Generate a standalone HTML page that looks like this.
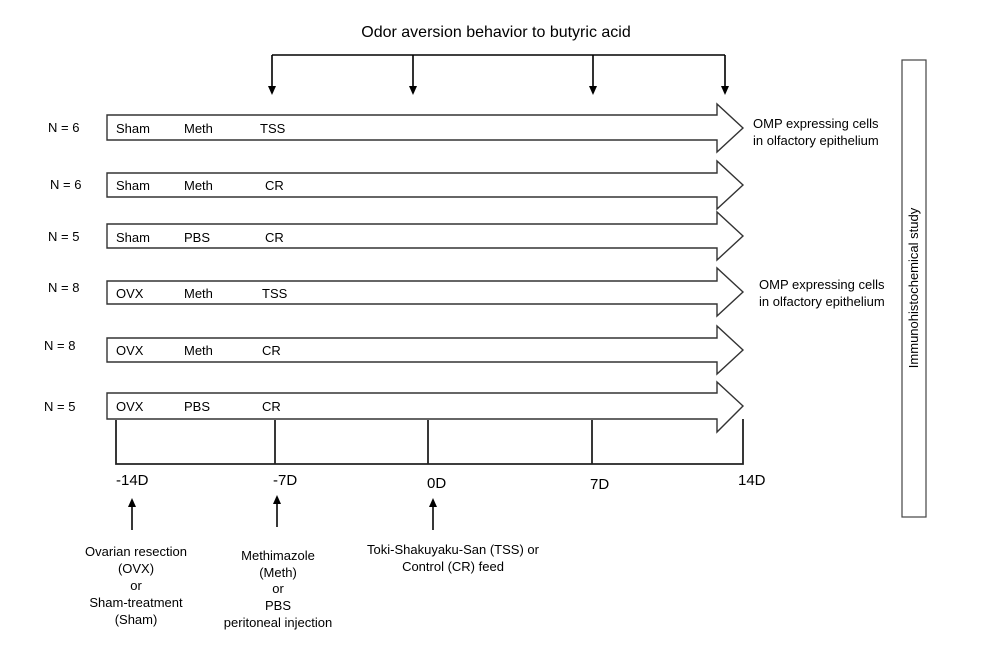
<!DOCTYPE html>
<html><head><meta charset="utf-8"><style>html,body{margin:0;padding:0;background:#fff}svg{display:block}</style></head>
<body>
<svg width="986" height="659" viewBox="0 0 986 659" xmlns="http://www.w3.org/2000/svg" font-family="Liberation Sans, Arial, sans-serif" fill="#000">
<defs><marker id="ah" markerWidth="8" markerHeight="8" refX="4" refY="7" orient="auto" markerUnits="userSpaceOnUse"><path d="M0,0 L8,0 L4,8 z" fill="#000"/></marker></defs>
<text x="496" y="37" font-size="16" text-anchor="middle">Odor aversion behavior to butyric acid</text>
<g stroke="#000" stroke-width="1.6" fill="none">
<path d="M272,55 H725"/>
<path d="M272,55 V93 M413,55 V93 M593,55 V93 M725,55 V93"/>
</g>
<g fill="#000">
<path d="M268,86 L276,86 L272,95z"/><path d="M409,86 L417,86 L413,95z"/><path d="M589,86 L597,86 L593,95z"/><path d="M721,86 L729,86 L725,95z"/>
</g>
<g stroke="#333" stroke-width="1.4" fill="#fff">
<path d="M107,115 H717 V104 L743,128 L717,152 V140 H107 Z"/>
<path d="M107,173 H717 V161 L743,185 L717,209 V197 H107 Z"/>
<path d="M107,224 H717 V212 L743,236 L717,260 V248 H107 Z"/>
<path d="M107,281 H717 V268 L743,292 L717,316 V304 H107 Z"/>
<path d="M107,338 H717 V326 L743,350 L717,374 V362 H107 Z"/>
<path d="M107,393 H717 V382 L743,406 L717,432 V419 H107 Z"/>
</g>
<g font-size="13">
<text x="48" y="132">N = 6</text><text x="116" y="133">Sham</text><text x="184" y="133">Meth</text><text x="260" y="133">TSS</text>
<text x="50" y="189">N = 6</text><text x="116" y="190">Sham</text><text x="184" y="190">Meth</text><text x="265" y="190">CR</text>
<text x="48" y="241">N = 5</text><text x="116" y="242">Sham</text><text x="184" y="242">PBS</text><text x="265" y="242">CR</text>
<text x="48" y="292">N = 8</text><text x="116" y="298">OVX</text><text x="184" y="298">Meth</text><text x="262" y="298">TSS</text>
<text x="44" y="350">N = 8</text><text x="116" y="355">OVX</text><text x="184" y="355">Meth</text><text x="262" y="355">CR</text>
<text x="44" y="411">N = 5</text><text x="116" y="411">OVX</text><text x="184" y="411">PBS</text><text x="262" y="411">CR</text>
<text x="753" y="128">OMP expressing cells</text><text x="753" y="145">in olfactory epithelium</text>
<text x="759" y="289">OMP expressing cells</text><text x="759" y="306">in olfactory epithelium</text>
</g>
<g stroke="#222" stroke-width="1.8" fill="none">
<path d="M116,420 V464 H743 V419"/>
<path d="M275,420 V464 M428,420 V464 M592,420 V464"/>
<path d="M132,530 V505 M277,527 V502 M433,530 V505"/>
</g>
<g fill="#000"><path d="M128,507 L136,507 L132,498z"/><path d="M273,504 L281,504 L277,495z"/><path d="M429,507 L437,507 L433,498z"/></g>
<g font-size="15">
<text x="116" y="485">-14D</text><text x="273" y="485">-7D</text><text x="427" y="488">0D</text><text x="590" y="489">7D</text><text x="738" y="485">14D</text>
</g>
<rect x="902" y="60" width="24" height="457" fill="#fff" stroke="#444" stroke-width="1.2"/>
<text transform="translate(918,288) rotate(-90)" font-size="13" text-anchor="middle">Immunohistochemical study</text>
<g font-size="13" text-anchor="middle">
<text x="136" y="556">Ovarian resection</text><text x="136" y="573">(OVX)</text><text x="136" y="590">or</text><text x="136" y="607">Sham-treatment</text><text x="136" y="624">(Sham)</text>
<text x="278" y="560">Methimazole</text><text x="278" y="577">(Meth)</text><text x="278" y="593">or</text><text x="278" y="610">PBS</text><text x="278" y="627">peritoneal injection</text>
<text x="453" y="554">Toki-Shakuyaku-San (TSS) or</text><text x="453" y="571">Control (CR) feed</text>
</g>
</svg>
</body></html>
